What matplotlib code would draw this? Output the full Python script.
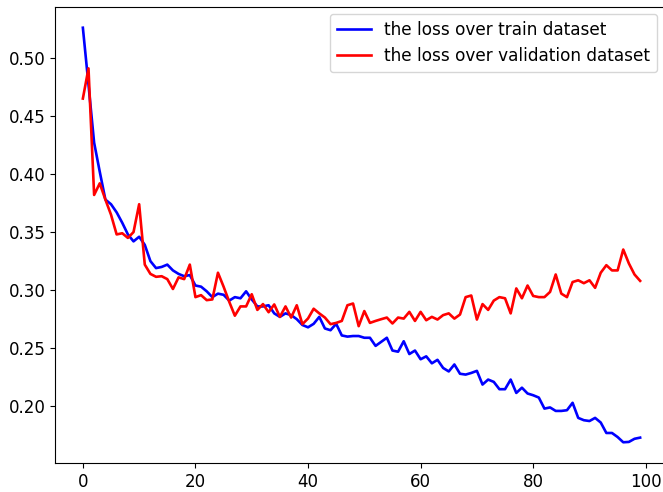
import matplotlib
matplotlib.use("Agg")
import matplotlib.pyplot as plt
import numpy as np

train_loss = [0.526, 0.477, 0.427, 0.402, 0.378, 0.374, 0.367, 0.358, 0.348, 0.342,
              0.346, 0.339, 0.325, 0.319, 0.320, 0.322, 0.317, 0.314, 0.312, 0.313,
              0.304, 0.303, 0.299, 0.294, 0.297, 0.296, 0.291, 0.294, 0.293, 0.299,
              0.292, 0.286, 0.286, 0.287, 0.280, 0.277, 0.280, 0.2785, 0.275, 0.270,
              0.268, 0.271, 0.277, 0.267, 0.2655, 0.271, 0.261, 0.260, 0.2605, 0.2605,
              0.259, 0.259, 0.252, 0.2555, 0.259, 0.248, 0.247, 0.256, 0.245, 0.248,
              0.2405, 0.243, 0.237, 0.240, 0.233, 0.230, 0.236, 0.228, 0.2273, 0.2287,
              0.2305, 0.2187, 0.223, 0.221, 0.2147, 0.2147, 0.223, 0.2115, 0.216, 0.211,
              0.2095, 0.2075, 0.198, 0.199, 0.196, 0.196, 0.1966, 0.203, 0.190, 0.188,
              0.1873, 0.190, 0.186, 0.177, 0.177, 0.1735, 0.169, 0.1693, 0.172, 0.173]

val_loss = [0.465, 0.491, 0.382, 0.392, 0.378, 0.365, 0.348, 0.349, 0.345, 0.350,
            0.374, 0.322, 0.314, 0.3115, 0.312, 0.3095, 0.301, 0.311, 0.3095, 0.322,
            0.294, 0.2957, 0.2914, 0.292, 0.315, 0.303, 0.290, 0.278, 0.286, 0.286,
            0.2965, 0.283, 0.288, 0.281, 0.2877, 0.277, 0.286, 0.2764, 0.287, 0.2707,
            0.2756, 0.284, 0.280, 0.2764, 0.2707, 0.2718, 0.2735, 0.287, 0.2885, 0.269,
            0.282, 0.2718, 0.2735, 0.275, 0.2764, 0.2713, 0.2764, 0.2755, 0.2813, 0.2735,
            0.2813, 0.2741, 0.277, 0.2747, 0.2785, 0.280, 0.2755, 0.279, 0.294, 0.2954,
            0.2747, 0.288, 0.283, 0.291, 0.294, 0.293, 0.280, 0.3015, 0.293, 0.304,
            0.295, 0.294, 0.294, 0.2985, 0.3135, 0.297, 0.294, 0.307, 0.3085, 0.306,
            0.3085, 0.302, 0.315, 0.3215, 0.317, 0.317, 0.335, 0.323, 0.3135, 0.308]

epochs = list(range(len(train_loss)))
labels = ["the loss over train dataset", "the loss over validation dataset"]

fig = plt.figure(figsize=(6.63, 4.92), dpi=100)
ax = fig.add_axes([55/663, 1 - 463/492, 613/663, 456/492])
ax.plot(epochs, train_loss, color="blue", linewidth=1.9, label=labels[0])
ax.plot(epochs, val_loss, color="red", linewidth=1.9, label=labels[1])
ax.tick_params(labelsize=12)
ax.legend(loc="upper right", fontsize=12.2,
          bbox_to_anchor=(657/663, 1 - 14/492), bbox_transform=fig.transFigure,
          borderaxespad=0)
fig.savefig("out.png", dpi=100)
